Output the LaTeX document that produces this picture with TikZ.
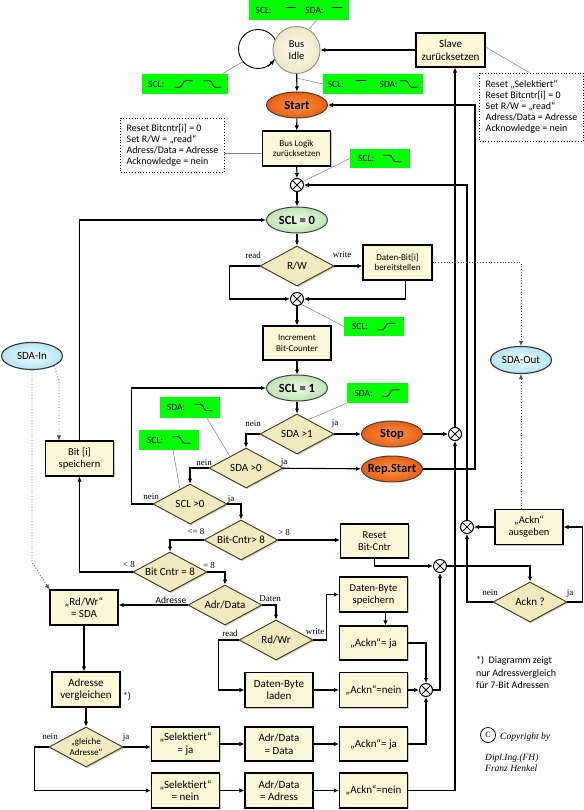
\documentclass[tikz,border=0pt]{standalone}
\usepackage{fontspec}
\setmainfont{Carlito}
\newfontfamily\seriffont{Liberation Serif}
\usetikzlibrary{arrows.meta,shapes.geometric,shadows,calc}

\definecolor{boxfill}{RGB}{250,248,214}
\definecolor{boxshade}{RGB}{160,150,105}
\definecolor{dmdfill}{RGB}{240,234,190}
\definecolor{dmdline}{RGB}{60,55,35}
\definecolor{orangeIn}{RGB}{250,150,70}
\definecolor{orangeOut}{RGB}{232,95,20}
\definecolor{greenIn}{RGB}{238,250,232}
\definecolor{greenOut}{RGB}{190,228,180}
\definecolor{cyanIn}{RGB}{238,252,255}
\definecolor{cyanOut}{RGB}{180,230,242}
\definecolor{idleIn}{RGB}{255,255,242}
\definecolor{idleOut}{RGB}{235,232,200}
\definecolor{sigGreen}{RGB}{0,255,0}

% Signalverlaeufe: high, steigende und fallende Flanke
\newcommand{\sigHi}{\tikz[baseline=0pt,x=1pt,y=1pt]\draw[line width=0.8pt] (0,6.5) -- (10,6.5);}
\newcommand{\sigUp}{\tikz[baseline=0pt,x=1pt,y=1pt]\draw[line width=0.8pt] (0,0) -- (5,0) .. controls (8,0) and (8,6.5) .. (11,6.5) -- (18,6.5);}
\newcommand{\sigDn}{\tikz[baseline=0pt,x=1pt,y=1pt]\draw[line width=0.8pt] (0,6.5) -- (6,6.5) .. controls (9,6.5) and (9,0) .. (12,0) -- (18,0);}

\begin{document}
\begin{tikzpicture}[x=1pt, y=-1pt, >={Latex[length=5pt,width=4.5pt]},
  proc/.style={draw, line width=1.1pt, fill=boxfill, minimum width=68pt, minimum height=35pt,
    inner sep=1pt, align=center, font=\fontsize{10.5}{12}\selectfont,
    drop shadow={shadow xshift=1.2pt, shadow yshift=-1.2pt, fill=boxshade}},
  procS/.style={proc, font=\fontsize{9}{10.5}\selectfont},
  procL/.style={proc, font=\fontsize{11}{12.5}\selectfont},
  decision/.style={diamond, shape aspect=1.85, draw=dmdline, line width=0.9pt, fill=dmdfill,
    minimum width=74pt, minimum height=40pt, inner sep=0pt, align=center,
    font=\fontsize{11}{12}\selectfont,
    drop shadow={shadow xshift=1.2pt, shadow yshift=-1.2pt, fill=boxshade}},
  phase/.style={ellipse, draw=black!75, line width=1pt, minimum width=61pt, minimum height=26pt,
    inner sep=0pt, inner xsep=-8pt, font=\bfseries\fontsize{12.5}{14}\selectfont},
  hot/.style={phase, inner color=orangeIn, outer color=orangeOut},
  clock/.style={phase, inner color=greenIn, outer color=greenOut},
  port/.style={ellipse, draw=black!80, line width=1.1pt, inner color=cyanIn, outer color=cyanOut,
    minimum width=61pt, minimum height=27pt, inner sep=0pt, font=\fontsize{11}{12}\selectfont},
  mixer/.style={circle, draw, line width=1pt, minimum size=13pt, inner sep=0pt, fill=white,
    path picture={\draw[line width=0.9pt]
      (path picture bounding box.north west) -- (path picture bounding box.south east)
      (path picture bounding box.north east) -- (path picture bounding box.south west);}},
  sigbox/.style={fill=sigGreen, inner sep=0pt, minimum height=20pt, font=\fontsize{9.5}{11}\selectfont},
  memo/.style={draw, dotted, line width=0.8pt, fill=white, align=left, inner xsep=6pt,
    minimum width=101pt, font=\fontsize{10}{11}\selectfont},
  lbl/.style={inner sep=0pt, font=\seriffont\fontsize{9}{10}\selectfont},
  flow/.style={draw, line width=1.1pt, ->},
  hint/.style={draw=black!50, line width=0.5pt},
  wire/.style={draw=black!70, dotted, line width=0.8pt, ->}]

\useasboundingbox (0,0) rectangle (583,810);

% --- Bus Idle, Start, Slave ---
\node[circle, draw, line width=0.9pt, minimum size=39pt] (idleLoop) at (258,49) {};
\node[circle, draw=black!45, line width=0.9pt, inner color=idleIn, outer color=idleOut,
  minimum size=47pt, inner sep=0pt, align=center, font=\fontsize{10.5}{11.5}\selectfont] (busIdle) at (296.5,50) {Bus\\Idle};
\node[procL, minimum width=69pt, minimum height=34pt] (slave) at (450.5,50) {Slave\\zurücksetzen};
\node[hot] (start) at (297,105) {Start};
\node[procS] (busLogik) at (296.5,148.5) {Bus Logik\\zurücksetzen};

\node[memo, minimum height=54pt] (noteLogik) at (172.5,145) {Reset Bitcntr[i] = 0\\Set R/W = „read“\\Adress/Data = Adresse\\Acknowledge = nein};
\node[memo, minimum height=68pt] (noteSlave) at (531.5,107) {Reset „Selektiert“\\Reset Bitcntr[i] = 0\\Set R/W = „read“\\Adress/Data = Adresse\\Acknowledge = nein};

% --- Signalzustaende (gruen) ---
\node[sigbox, minimum width=100pt] (gIdle) at (299,10) {SCL:\hspace{14pt}\sigHi\hspace{9pt}SDA:\hspace{8pt}\sigHi};
\node[sigbox, minimum width=86pt] (gLoop) at (185,84) {SCL:\hspace{10pt}\sigUp\hspace{10pt}\sigDn};
\node[sigbox, minimum width=100pt] (gStart) at (373,84) {SCL:\hspace{12pt}\sigHi\hspace{13pt}SDA:\,\sigDn};
\node[sigbox, minimum width=60pt, minimum height=19pt] (gReset) at (380,158.5) {SCL:\hspace{9pt}\sigDn};
\node[sigbox, minimum width=60pt, minimum height=19pt] (gIncr) at (374,326.5) {SCL:\hspace{9pt}\sigUp};
\node[sigbox, minimum width=61pt] (gSdaUp) at (377.5,393) {SDA:\hspace{9pt}\sigUp};
\node[sigbox, minimum width=60pt, minimum height=21pt] (gSdaDn) at (190,407.5) {SDA:\hspace{9pt}\sigDn};
\node[sigbox, minimum width=60pt] (gSclDn) at (169,440) {SCL:\hspace{9pt}\sigDn};

% --- Bit-Schleife ---
\node[mixer] (m1) at (297,185) {};
\node[clock] (scl0) at (297,220) {SCL = 0};
\node[decision] (dRW) at (297,266) {R/W};
\node[procS, minimum width=69pt] (bitOut) at (397.5,262.5) {Daten-Bit[i]\\bereitstellen};
\node[mixer] (m2) at (297,299) {};
\node[procS, minimum height=34pt] (incr) at (297,343) {Increment\\Bit-Counter};
\node[clock] (scl1) at (297,388) {SCL = 1};
\node[decision] (dStop) at (297,434) {SDA >1};
\node[hot] (stop) at (392,434) {Stop};
\node[mixer] (m3) at (455,434) {};
\node[decision] (dRep) at (246,468) {SDA >0};
\node[hot] (repStart) at (392,469) {Rep.Start};
\node[decision] (dClk) at (190,504) {SCL >0};
\node[proc] (bitIn) at (79.5,458.5) {Bit [i]\\speichern};
\node[decision] (dCntGt) at (241,540) {Bit-Cntr> 8};
\node[proc, minimum height=34pt] (cntReset) at (374.5,541) {Reset\\Bit-Cntr};
\node[decision] (dCntEq) at (170,572) {Bit Cntr = 8};

\node[port] (sdaIn) at (32,356) {SDA-In};
\node[port] (sdaOut) at (521,360) {SDA-Out};

% --- Acknowledge ---
\node[proc] (acknOut) at (529,527) {„Ackn“\\ausgeben};
\node[mixer] (m4) at (467,527) {};
\node[mixer] (m5) at (440,566) {};
\node[decision] (dAckn) at (530,602) {Ackn ?};

% --- Byte / Adresse ---
\node[decision] (dMode) at (225,605) {Adr/Data};
\node[procL] (rdwrSet) at (84,607.5) {„Rd/Wr“\\= SDA};
\node[decision] (dDir) at (276,640) {Rd/Wr};
\node[proc] (byteIn) at (373.5,594.5) {Daten-Byte\\speichern};
\node[procL, minimum height=34pt] (acknA) at (373.5,643) {„Ackn“= ja};
\node[procL] (byteOut) at (279,690) {Daten-Byte\\laden};
\node[procL] (acknB) at (373.5,690) {„Ackn“=nein};
\node[mixer] (m6) at (426,690) {};
\node[procL] (adrCmp) at (86,689.5) {Adresse\\vergleichen};
\node[decision, font=\fontsize{9}{10.5}\selectfont] (dAdr) at (86,747) {„gleiche\\Adresse“};
\node[procL, minimum height=34pt] (selYes) at (185.5,744) {„Selektiert“\\= ja};
\node[procL, minimum height=34pt] (modeData) at (279,744) {Adr/Data\\= Data};
\node[procL, minimum height=34pt] (acknC) at (373.5,744) {„Ackn“= ja};
\node[procL] (selNo) at (185.5,790.5) {„Selektiert“\\= nein};
\node[procL] (modeAdr) at (279,790.5) {Adr/Data\\= Adress};
\node[procL] (acknD) at (373.5,790.5) {„Ackn“=nein};

% --- Beschriftungen ---
\node[lbl] (lRead) at (253,255) {read};
\node[lbl] (lWrite) at (342,255) {write};
\node[lbl] (lStopNo) at (253,424) {nein};
\node[lbl] (lStopYes) at (335,423) {ja};
\node[lbl] (lRepNo) at (204,463) {nein};
\node[lbl] (lRepYes) at (284,462) {ja};
\node[lbl] (lClkNo) at (151,497) {nein};
\node[lbl] (lClkYes) at (231,499) {ja};
\node[lbl] (lCntLe) at (196,532) {<= 8};
\node[lbl] (lCntGt) at (284,533) {> 8};
\node[lbl] (lCntLt) at (129,565) {< 8};
\node[lbl] (lCntEq) at (209,566) {= 8};
\node[lbl, font=\fontsize{9.5}{11}\selectfont] (lModeAdr) at (171,600) {Adresse};
\node[lbl] (lModeData) at (270,599) {Daten};
\node[lbl] (lDirRead) at (230,633) {read};
\node[lbl] (lDirWrite) at (315,632) {write};
\node[lbl] (lAdrNo) at (50,737) {nein};
\node[lbl] (lAdrYes) at (126,737) {ja};
\node[lbl] (lAckNo) at (490,593) {nein};
\node[lbl] (lAckYes) at (570,593) {ja};
\node[lbl, font=\fontsize{10}{12}\selectfont] (lStar) at (127,697) {*)};

\node[anchor=north west, align=left, inner sep=0pt, font=\fontsize{10}{12.5}\selectfont] (footnote) at (476,656) {*)~~Diagramm zeigt\\nur Adressvergleich\\für 7-Bit Adressen};
\node[circle, draw, line width=0.8pt, minimum size=15pt, inner sep=0pt, font=\seriffont\fontsize{8}{9}\selectfont] (copyC) at (488,735) {C};
\node[anchor=west, inner sep=0pt, font=\seriffont\itshape\fontsize{9.5}{11}\selectfont] (copyText) at (500,737) {Copyright by};
\node[anchor=north west, align=left, inner sep=0pt, font=\seriffont\itshape\fontsize{9.5}{11}\selectfont] (copyName) at (485,754) {Dipl.Ing.(FH)\\Franz Henkel};

% --- Hinweislinien ---
\draw[hint] ([xshift=18pt]gIdle.south) -- (busIdle.60);
\draw[hint] ([xshift=-6pt]gLoop.north east) -- (idleLoop.220);
\draw[hint] ([yshift=-4pt]busIdle.south) -- (gStart.west);
\coordinate (logikTap) at ([yshift=-4.5pt]busLogik.west);
\draw[hint] (logikTap) -- (logikTap -| noteLogik.east);
\draw[hint] ([yshift=3pt]slave.east) -- ([xshift=-2pt]noteSlave.north);
\draw[hint] (gReset.west) -- (m1.30);
\draw[hint] (gIncr.west) -- (m2.-50);
\draw[hint] (gSdaUp.south west) -- ($(dStop.north)!0.3!(dStop.east)$);
\draw[hint] ([xshift=17pt]gSdaDn.south) -- ($(dRep.west)!0.57!(dRep.north)$);
\draw[hint] ([xshift=4pt]gSclDn.south) -- ($(dClk.west)!0.73!(dClk.north)$);

% --- Ablauf ---
\draw[flow] (idleLoop.-60) -- (busIdle.205);
\draw[flow] (busIdle) -- (start);
\draw[flow] (slave) -- (busIdle);
\draw[flow] (start) -- (busLogik);
\draw[flow] (busLogik) -- (m1);
\draw[flow] (m1) -- (scl0);
\draw[flow] (scl0) -- (dRW);
\draw[flow] (dRW.west) -- ++(-30,0) |- (m2.west);
\draw[flow] (dRW.east) -- (dRW.east -| bitOut.west);
\draw[flow] ([xshift=8pt]bitOut.south) |- (m2.east);
\draw[flow] (m2) -- (incr);
\draw[flow] (incr) -- (scl1);
\draw[flow] (scl1) -- (dStop);
\draw[flow] (dStop) -- (stop);
\draw[flow] (stop) -- (m3);
\draw[flow] (dStop.west) -| (dRep.north);
\draw[flow] (dRep) -- (repStart);
\draw[flow] (repStart.east) -- ++(52,0) |- (start.east);
\draw[flow] (dRep.west) -| (dClk.north);
\draw[flow] (dClk.west) -- ++(-21,0) |- (scl1.west);
\draw[flow] (dClk.east) -| (dCntGt.north);
\draw[flow] (dCntGt.east) -- (dCntGt.east -| cntReset.west);
\draw[flow] (dCntGt.west) -| (dCntEq.north);
\draw[flow] (dCntEq.west) -| (bitIn.south);
\draw[flow] (bitIn.north) |- (scl0.west);
\draw[flow] (dCntEq.east) -| (dMode.north);
\draw[flow] (dMode.west) -- (dMode.west -| rdwrSet.east);
\draw[flow] (dMode.east) -| (dDir.north);
\draw[flow] (dDir.west) -- ++(-20,0) |- (byteOut.west);
\draw[flow] (dDir.east) -- ++(13,0) |- (byteIn.west);
\draw[flow] ([xshift=12pt]byteIn.south) -- ([xshift=12pt]acknA.north);
\draw[flow] (acknA.east) -| (m6.north);
\draw[flow] (byteOut) -- (acknB);
\draw[flow] (acknB) -- (m6);
\draw[flow] (acknC.east) -| (m6.south);
\draw[flow] (m6.east) -| (m5.south);
\draw[flow] (cntReset.south) |- (m5.west);
\draw[flow] (m5.east) -| (dAckn.north);
\draw[flow] (dAckn.west) -| (m4.south);
\draw[flow] (dAckn.east) -- ++(15,0) |- (acknOut.east);
\draw[flow] (acknOut) -- (m4);
\draw[flow] (m4.north) |- (m1.east);
\draw[flow] (acknD.east) -| (m3.south);
\draw[flow] (m3) -- (m3 |- slave.south);
\draw[flow] (rdwrSet.south) -- (rdwrSet.south |- adrCmp.north);
\draw[flow] (adrCmp) -- (dAdr);
\draw[flow] (dAdr.east) -- (dAdr.east -| selYes.west);
\draw[flow] (dAdr.west) -- ++(-14,0) |- (selNo.west);
\draw[flow] (selYes) -- (modeData);
\draw[flow] (modeData) -- (acknC);
\draw[flow] (selNo) -- (modeAdr);
\draw[flow] (modeAdr) -- (acknD);

% --- SDA-Leitungen (gepunktet) ---
\draw[wire] (bitOut.east) -| (sdaOut.north);
\draw[wire] (acknOut.north -| sdaOut.south) -- (sdaOut.south);
\draw[wire] (sdaIn.south) -- ++(0,192) -- (rdwrSet.north west);
\coordinate (inBend) at (59,380);
\draw[wire] (sdaIn.south east) -- (inBend) -- (inBend |- bitIn.north);
\end{tikzpicture}
\end{document}
